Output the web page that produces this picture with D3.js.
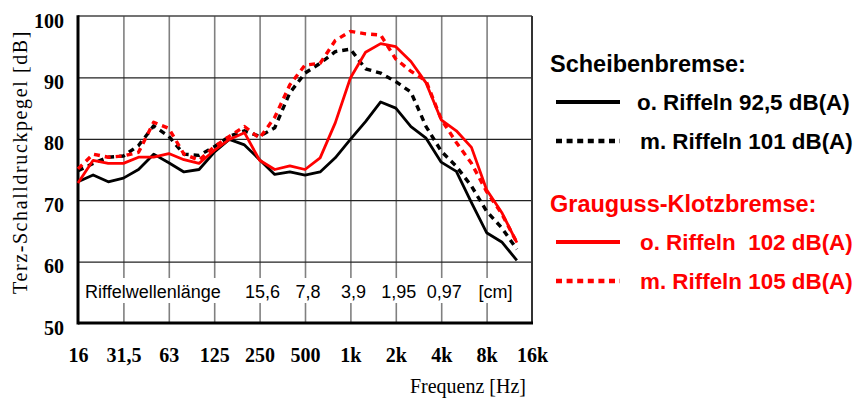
<!DOCTYPE html>
<head>
    <meta charset="utf-8">
    <script src="https://d3js.org/d3.v7.min.js"></script>
    <style>
        body { margin: 0; background: #fff; }
        text { white-space: pre; }
    </style>
</head>

<body>
    <svg width="858" height="401"></svg>

    <script>
        // third-octave bands 16 Hz .. 16 kHz
        const bands = ["16", "20", "25", "31,5", "40", "50", "63", "80", "100", "125", "160", "200", "250", "315",
            "400", "500", "630", "800", "1k", "1,25k", "1,6k", "2k", "2,5k", "3,15k", "4k", "5k", "6,3k", "8k",
            "10k", "12,5k", "16k"]
        const tickBands = ["16", "31,5", "63", "125", "250", "500", "1k", "2k", "4k", "8k", "16k"]
        const yTicks = [50, 60, 70, 80, 90, 100]

        // Scheibenbremse
        const scheibeOhne = [73.0, 74.1, 73.0, 73.6, 75.0, 77.5, 76.1, 74.6, 75.0, 77.8, 79.9, 79.0, 76.6, 74.2,
            74.6, 74.1, 74.6, 76.9, 79.9, 82.8, 86.0, 85.0, 82.0, 80.1, 76.2, 74.7, 69.6, 64.7, 63.2, 60.2]
        const scheibeMit = [74.8, 76.0, 77.0, 77.2, 78.9, 82.1, 80.4, 77.5, 77.3, 78.7, 80.4, 81.3, 80.4, 81.8,
            87.5, 90.7, 92.3, 94.2, 94.6, 91.4, 90.7, 89.3, 87.6, 82.0, 78.0, 75.5, 72.3, 68.2, 65.5, 62.0]
        // Grauguss-Klotzbremse
        const klotzOhne = [72.8, 76.5, 76.0, 76.0, 77.0, 77.0, 77.6, 76.6, 76.0, 78.1, 79.9, 81.0, 76.5, 75.0,
            75.6, 75.0, 76.9, 82.6, 89.9, 94.1, 95.5, 95.0, 92.6, 89.1, 83.1, 81.3, 78.6, 71.7, 68.0, 63.1]
        const klotzMit = [75.1, 77.5, 77.0, 77.2, 77.8, 82.7, 81.7, 77.5, 76.5, 78.7, 80.4, 82.0, 80.1, 83.5,
            88.8, 92.0, 92.3, 96.0, 97.5, 97.1, 96.9, 93.0, 91.0, 89.4, 83.2, 79.4, 76.0, 71.4, 67.8, 63.1]

        const waveLabels = ["15,6", "7,8", "3,9", "1,95", "0,97", "[cm]"]
        const waveBands = ["250", "500", "1k", "2k", "4k", "8k"]

        const legendTitles = ["Scheibenbremse:", "Grauguss-Klotzbremse:"]
        const legendLabels = ["o. Riffeln 92,5 dB(A)", "m. Riffeln 101 dB(A)", "o. Riffeln  102 dB(A)", "m. Riffeln 105 dB(A)"]

        const series = [
            { values: scheibeOhne, color: "#000", dash: null },
            { values: scheibeMit, color: "#000", dash: "6,5" },
            { values: klotzOhne, color: "#ff0000", dash: null },
            { values: klotzMit, color: "#ff0000", dash: "6,5" }
        ]

        const mLeft = 78, mRight = 532, mTop = 16, mBottom = 323
        const serif = "'Liberation Serif', 'Times New Roman', serif"
        const sans = "'Liberation Sans', Arial, sans-serif"

        let svg = d3.select("svg")

        const x = d3.scalePoint().domain(bands).range([mLeft, mRight])
        const y = d3.scaleLinear().domain([50, 100]).range([mBottom, mTop])

        // vertical grid
        let gx = svg.append("g")
            .attr("transform", `translate(0,${mBottom})`)
            .call(d3.axisBottom(x).tickValues(tickBands.slice(1, -1)).tickSize(-(mBottom - mTop)).tickFormat(""))
        gx.select(".domain").remove()
        gx.selectAll("line").attr("stroke", "#808080").attr("stroke-width", 1.6)

        // horizontal grid
        let gy = svg.append("g")
            .attr("transform", `translate(${mLeft},0)`)
            .call(d3.axisLeft(y).tickValues(yTicks.slice(1, -1)).tickSize(-(mRight - mLeft)).tickFormat(""))
        gy.select(".domain").remove()
        gy.selectAll("line").attr("stroke", "#222").attr("stroke-width", 1.2)

        // wavelength row
        svg.append("rect")
            .attr("x", mLeft + 2).attr("y", 278)
            .attr("width", x("8k") - mLeft + 40).attr("height", 25)
            .attr("fill", "#fff")
        svg.append("text")
            .attr("x", mLeft + 7).attr("y", 298)
            .attr("font-family", sans).attr("font-size", 18)
            .text("Riffelwellenlänge")
        svg.selectAll("text.wave")
            .data(waveLabels)
            .enter()
            .append("text")
            .attr("class", "wave")
            .attr("x", (d, i) => x(waveBands[i]) + (d == "[cm]" ? 9 : 3))
            .attr("y", 298)
            .attr("text-anchor", "middle")
            .attr("font-family", sans).attr("font-size", 18)
            .text(d => d)

        // frame
        svg.append("line").attr("x1", mLeft).attr("x2", mRight).attr("y1", mTop).attr("y2", mTop)
            .attr("stroke", "#444").attr("stroke-width", 1.6)
        svg.append("line").attr("x1", mRight).attr("x2", mRight).attr("y1", mTop).attr("y2", mBottom)
            .attr("stroke", "#333").attr("stroke-width", 2)
        svg.append("line").attr("x1", mLeft).attr("x2", mLeft).attr("y1", mTop - 0.8).attr("y2", mBottom + 1.5)
            .attr("stroke", "#000").attr("stroke-width", 3)
        svg.append("line").attr("x1", mLeft).attr("x2", mRight + 1).attr("y1", mBottom).attr("y2", mBottom)
            .attr("stroke", "#000").attr("stroke-width", 3)

        // curves
        const line = d3.line().x((d, i) => x(bands[i])).y(d => y(d))
        svg.selectAll("path.curve")
            .data(series)
            .enter()
            .append("path")
            .attr("class", "curve")
            .attr("d", d => line(d.values))
            .attr("fill", "none")
            .attr("stroke", d => d.color)
            .attr("stroke-width", d => d.dash ? 3.4 : 2.8)
            .attr("stroke-dasharray", d => d.dash)
            .attr("stroke-linejoin", "round")

        // axis labels
        let ax = svg.append("g")
            .attr("transform", `translate(0,${mBottom})`)
            .call(d3.axisBottom(x).tickValues(tickBands).tickSize(0).tickPadding(25))
        ax.select(".domain").remove()
        ax.selectAll("text")
            .attr("font-family", serif).attr("font-size", 20).attr("font-weight", "bold").attr("fill", "#000")

        let ay = svg.append("g")
            .attr("transform", `translate(${mLeft},0)`)
            .call(d3.axisLeft(y).tickValues(yTicks).tickSize(0).tickPadding(14))
        ay.select(".domain").remove()
        ay.selectAll("text")
            .attr("dy", "0.55em")
            .attr("font-family", serif).attr("font-size", 20).attr("font-weight", "bold").attr("fill", "#000")

        svg.append("text")
            .attr("transform", "translate(27,162) rotate(-90)")
            .attr("text-anchor", "middle")
            .attr("font-family", serif).attr("font-size", 20)
            .attr("letter-spacing", 1.6)
            .text("Terz-Schalldruckpegel [dB]")

        svg.append("text")
            .attr("x", 526).attr("y", 393)
            .attr("text-anchor", "end")
            .attr("font-family", serif).attr("font-size", 20)
            .text("Frequenz [Hz]")

        // legend
        const titleY = [72, 212]
        const entryY = [102, 141, 242, 281]
        svg.selectAll("text.ltitle")
            .data(legendTitles)
            .enter()
            .append("text")
            .attr("class", "ltitle")
            .attr("x", 550).attr("y", (d, i) => titleY[i])
            .attr("font-family", sans).attr("font-size", 23.5).attr("font-weight", "bold")
            .attr("fill", (d, i) => i == 0 ? "#000" : "#ff0000")
            .text(d => d)

        svg.selectAll("line.lkey")
            .data(series)
            .enter()
            .append("line")
            .attr("class", "lkey")
            .attr("x1", 556).attr("x2", 620)
            .attr("y1", (d, i) => entryY[i]).attr("y2", (d, i) => entryY[i])
            .attr("stroke", d => d.color)
            .attr("stroke-width", d => d.dash ? 4.5 : 4)
            .attr("stroke-dasharray", d => d.dash ? "6,4.6" : null)

        svg.selectAll("text.lentry")
            .data(legendLabels)
            .enter()
            .append("text")
            .attr("class", "lentry")
            .attr("x", (d, i) => i == 0 ? 637 : 640)
            .attr("y", (d, i) => entryY[i] + 7.5)
            .attr("font-family", sans).attr("font-size", 22.4).attr("font-weight", "bold")
            .attr("fill", (d, i) => i < 2 ? "#000" : "#ff0000")
            .text(d => d)
    </script>
</body>
